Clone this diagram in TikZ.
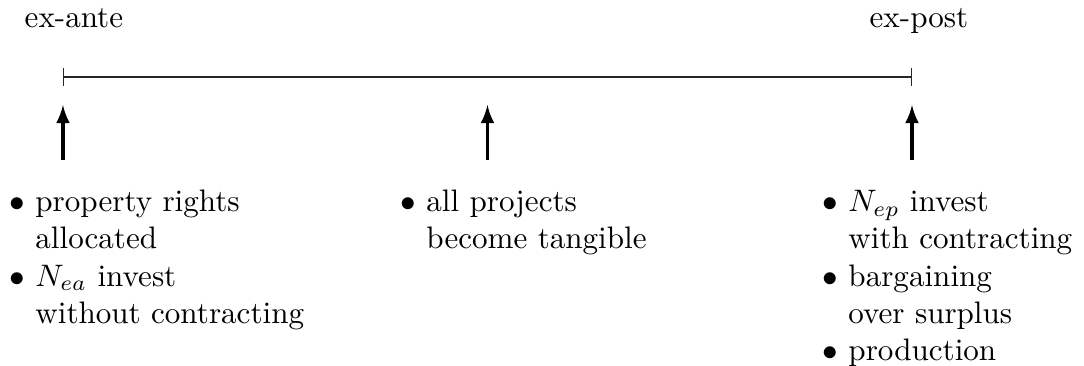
\documentclass[tikz,border=0pt]{standalone}
\usepackage{amsmath,amssymb}
\usepackage{tikz}
\usetikzlibrary{arrows, positioning}

\begin{document}
\begin{tikzpicture}[
    timeline/.style={|-|, thin, black!85},
    event arrow/.style={-latex, line width=1pt},
    phase/.style={anchor=base, inner sep=0pt},
    bullets/.style={anchor=base west, inner sep=0pt}
]
\useasboundingbox (-0.712, 0.871) rectangle (11.545, -3.26);

\coordinate (exante) at (0, 0);
\coordinate (expost) at (9.6, 0);
\draw[timeline] (exante) -- (expost);

\node[phase] (antelabel) at (0.124, 0.565) {ex-ante};
\node[phase] (postlabel) at (9.679, 0.565) {ex-post};

% arrows up to the timeline
\coordinate (leftfoot) at (0, -0.938);
\coordinate (lefttip) at (0, -0.317);
\coordinate (midfoot) at (4.8, -0.938);
\coordinate (midtip) at (4.8, -0.317);
\coordinate (rightfoot) at (9.6, -0.938);
\coordinate (righttip) at (9.6, -0.317);
\draw[event arrow] (leftfoot) -- (lefttip);
\draw[event arrow] (midfoot) -- (midtip);
\draw[event arrow] (rightfoot) -- (righttip);

\node[bullets] (leftevents) at (-0.611, -1.52) {\begin{tabular}[t]{@{}l@{\ }l@{}}
$\bullet$ & property rights\\
 & allocated\\
$\bullet$ & $N_{ea}$ invest\\
 & without contracting
\end{tabular}};
\node[bullets] (midevents) at (3.81, -1.52) {\begin{tabular}[t]{@{}l@{\ }l@{}}
$\bullet$ & all projects\\
 & become tangible
\end{tabular}};
\node[bullets] (rightevents) at (8.582, -1.52) {\begin{tabular}[t]{@{}l@{\ }l@{}}
$\bullet$ & $N_{ep}$ invest\\
 & with contracting\\
$\bullet$ & bargaining\\
 & over surplus\\
$\bullet$ & production
\end{tabular}};

\end{tikzpicture}
\end{document}
